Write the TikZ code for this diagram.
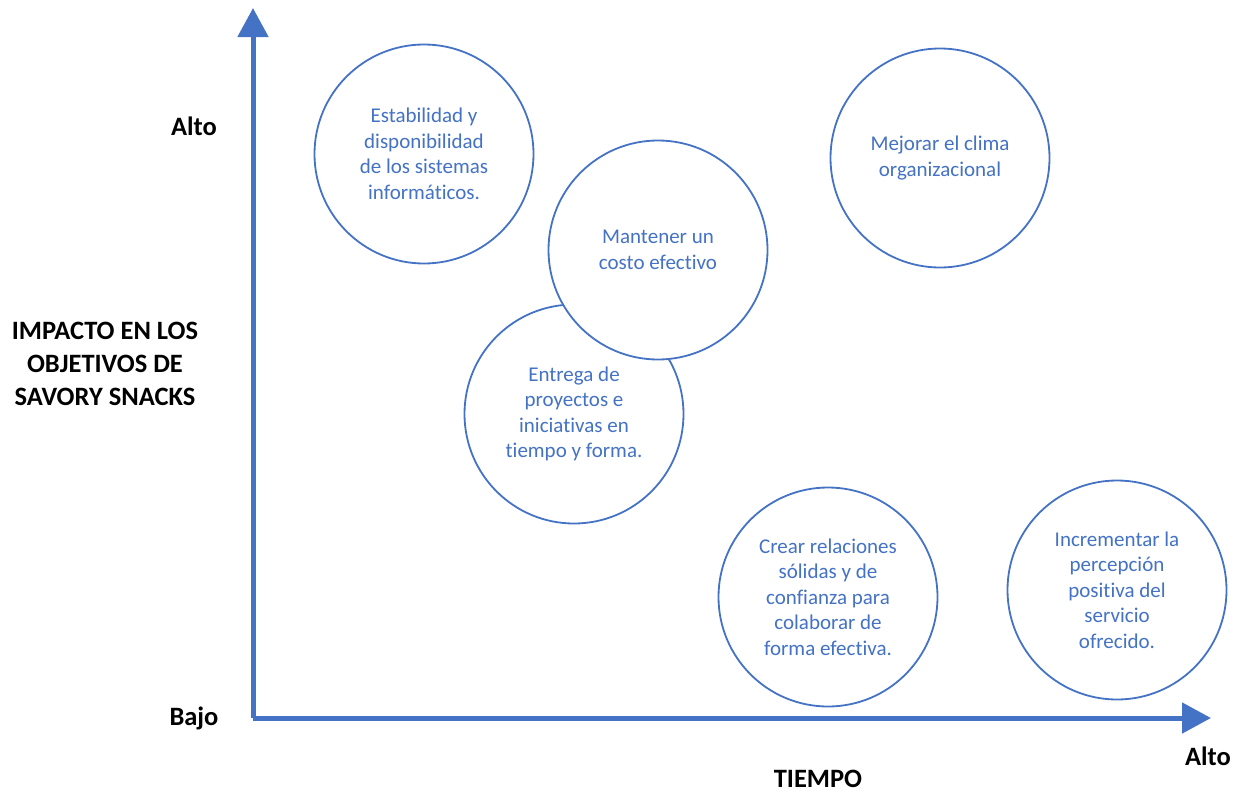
\documentclass[tikz,border=0pt]{standalone}
\usepackage{fontspec}
\setmainfont{Carlito}[Ligatures=NoCommon]
\usetikzlibrary{arrows.meta}
\definecolor{ablue}{HTML}{4472C4}
\tikzset{
  axis/.style={line width=5pt, ablue, -{Triangle[width=30pt,length=29pt]}},
  bubble/.style={circle, draw=ablue, line width=1.8pt, fill=white, minimum size=219pt, inner sep=0pt,
    text=ablue, align=center, font=\fontsize{21}{25.5}\selectfont},
  lbl/.style={font=\fontsize{26.5}{33}\selectfont\bfseries, text=black}
}
\begin{document}
\begin{tikzpicture}[x=1pt,y=-1pt]
\useasboundingbox (0,0) rectangle (1240,793);
\coordinate (o) at (253,718);
\coordinate (ytop) at (253,8);
\coordinate (xend) at (1211,718);
\draw[axis] (o) -- (ytop);
\draw[axis] (o) -- (xend);
\node[bubble] (c1) at (424,154) {Estabilidad y\\disponibilidad\\de los sistemas\\informáticos.};
\node[bubble] (c3) at (574,414) {Entrega de\\proyectos e\\iniciativas en\\tiempo y forma.};
\node[bubble] (c2) at (658,250) {Mantener un\\costo efectivo};
\node[bubble] (c4) at (940,158) {Mejorar el clima\\organizacional};
\node[bubble] (c5) at (828,597) {Crear relaciones\\sólidas y de\\confianza para\\colaborar de\\forma efectiva.};
\node[bubble] (c6) at (1117,590) {Incrementar la\\percepción\\positiva del\\servicio\\ofrecido.};
\node[lbl] (alto1) at (194,126) {Alto};
\node[lbl] (bajo) at (194,718) {Bajo};
\node[lbl] (alto2) at (1208,756) {Alto};
\node[lbl] (tiempo) at (818,779) {TIEMPO};
\node[lbl, align=center] (impacto) at (105,364) {IMPACTO EN LOS\\OBJETIVOS DE\\SAVORY SNACKS};
\end{tikzpicture}
\end{document}
